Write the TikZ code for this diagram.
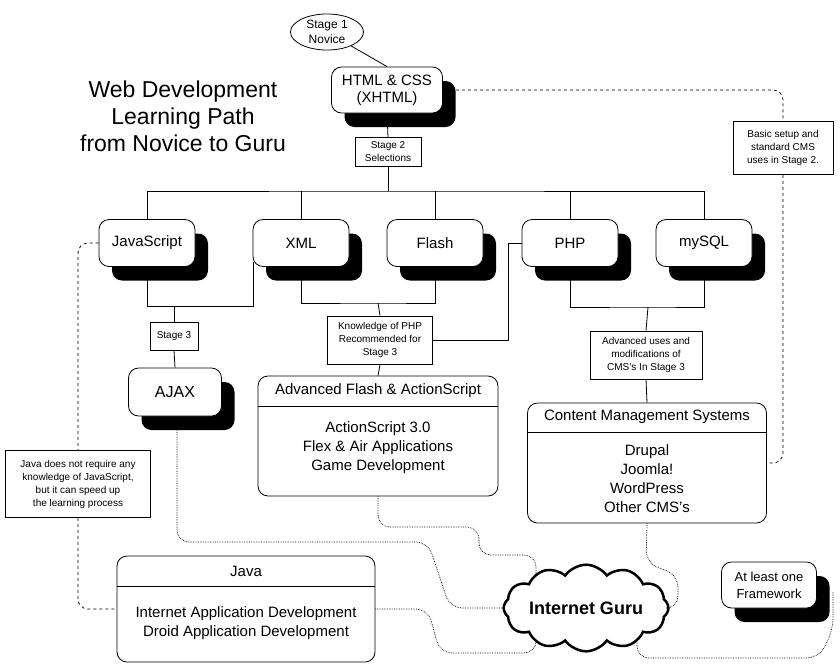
\documentclass[tikz,border=0pt]{standalone}
\usepackage{fontspec}
\setmainfont{Liberation Sans}
\usetikzlibrary{shapes.geometric,shapes.symbols,shadows,calc}
\begin{document}
\begin{tikzpicture}[x=1pt,y=-1pt,line width=0.8pt,
  box/.style={draw,fill=white,rounded corners=10pt,align=center,font=\fontsize{15}{17}\selectfont,inner sep=0pt},
  shad/.style={box,drop shadow={shadow xshift=13pt,shadow yshift=-14pt,fill=black,opacity=1}},
  note/.style={draw,fill=white,align=center,font=\fontsize{10}{13}\selectfont,inner sep=0pt},
  big/.style={box,font=\fontsize{15}{19}\selectfont},
  dot/.style={densely dotted,line width=0.7pt,rounded corners=12pt},
  dsh/.style={dashed,line width=0.7pt,rounded corners=10pt}]
\useasboundingbox (0,0) rectangle (840,670);
\fill[white] (0,0) rectangle (840,670);
% title
\node[align=center,font=\fontsize{23}{27}\selectfont] (title) at (183,116) {Web Development\\Learning Path\\from Novice to Guru};
% stage 1
\node[draw,ellipse,fill=white,minimum width=73pt,minimum height=36pt,inner sep=0pt,align=center,font=\fontsize{12}{15}\selectfont] (s1) at (327,32) {Stage 1\\Novice};
\node[shad,minimum width=111pt,minimum height=46pt] (html) at (387,90) {HTML \& CSS\\(XHTML)};
\node[note,minimum width=66pt,minimum height=29pt] (s2) at (388,152) {Stage 2\\Selections};
% row
\foreach \n/\x/\t in {js/147/JavaScript,xml/301/XML,flash/435/Flash,php/570/PHP,mysql/704/mySQL}
  \node[shad,minimum width=96pt,minimum height=47pt] (\n) at (\x,243) {\t};
\node[note,minimum width=48pt,minimum height=28pt] (s3) at (174,336) {Stage 3};
\node[note,minimum width=105pt,minimum height=48pt] (know) at (380,340) {Knowledge of PHP\\Recommended for\\Stage 3};
\node[note,minimum width=112pt,minimum height=48pt] (adv) at (646,355) {Advanced uses and\\modifications of\\CMS's In Stage 3};
\node[shad,font=\fontsize{16}{18}\selectfont,minimum width=93pt,minimum height=48pt] (ajax) at (175,392) {AJAX};
% split boxes
\node[box,minimum width=240pt,minimum height=120pt] (advflash) at (378,436) {};
\draw (advflash.west |- 0,406) -- (advflash.east |- 0,406);
\node[font=\fontsize{15}{17}\selectfont] (afh) at (378,391) {Advanced Flash \& ActionScript};
\node[align=center,font=\fontsize{15}{19}\selectfont] (afb) at (378,448) {ActionScript 3.0\\Flex \& Air Applications\\Game Development};
\node[box,minimum width=239pt,minimum height=120pt] (cms) at (647,463) {};
\draw (cms.west |- 0,432) -- (cms.east |- 0,432);
\node[font=\fontsize{15}{17}\selectfont] (cmsh) at (647,417) {Content Management Systems};
\node[align=center,font=\fontsize{15}{19}\selectfont] (cmsb) at (647,479) {Drupal\\Joomla!\\WordPress\\Other CMS's};
\node[box,minimum width=258pt,minimum height=106pt] (java) at (246,609) {};
\draw (java.west |- 0,586) -- (java.east |- 0,586);
\node[font=\fontsize{15}{17}\selectfont] (javah) at (246,571) {Java};
\node[align=center,font=\fontsize{15}{19}\selectfont] (javab) at (246,623) {Internet Application Development\\Droid Application Development};
% notes
\node[note,minimum width=100pt,minimum height=53pt] (basic) at (783,148) {Basic setup and\\standard CMS\\uses in Stage 2.};
\node[note,minimum width=145pt,minimum height=67pt] (jnote) at (78,484) {Java does not require any\\knowledge of JavaScript,\\but it can speed up\\the learning process};
% cloud
\node[cloud,draw,line width=2.5pt,fill=white,cloud puffs=12,cloud puff arc=110,aspect=2.4,minimum width=158pt,minimum height=66pt,inner sep=0pt,font=\bfseries\fontsize{18}{20}\selectfont] (guru) at (586,608) {Internet Guru};
\node[shad,font=\fontsize{13}{17}\selectfont,minimum width=95pt,minimum height=46pt] (fw) at (769,585) {At least one\\Framework};
% coordinates
\coordinate (bus) at (388,191);
\coordinate (jx) at (253,306);
\coordinate (j3) at (174,306);
\coordinate (xf) at (378,303);
\coordinate (pm) at (648,307);
\coordinate (pk) at (508,243);
% solid connectors
\draw (s1) -- (html.north);
\draw (html.south) -- (s2.north);
\draw (s2.south) -- (bus);
\draw (js.north) |- (bus) -| (mysql.north);
\foreach \n in {xml,flash,php} \draw (\n.north) -- (\n.north |- bus);
\draw (js.south) |- (jx) -- (253,262);
\draw (j3) -- (s3.north);
\draw (s3.south) -- (ajax.north);
\draw (xml.south) |- (xf) -| (flash.south);
\draw (xf) -- (know.north);
\draw (know.south) -- (advflash.north);
\draw (know.east) -| (pk) -- (php.west);
\draw (php.south) |- (pm) -| (mysql.south);
\draw (pm) -- (adv.north);
\draw (adv.south) -- (cms.north);
% dashed
\draw[dsh] ($(html.east)+(13,0)$) -| (basic.north);
\draw[dsh] (basic.south) |- (cms.east);
\draw[dsh] (js.west) -| (jnote.north);
\draw[dsh] (jnote.south) |- (java.west);
% dotted
\coordinate (g1) at (536,577);
\coordinate (g2) at (536,640);
\coordinate (g3) at (637,640);
\coordinate (fwr) at (833,592);
\draw[dot] ($(ajax.south)+(2,14)$) -- (177,542) -- (428,542) -- (450,608) -- (guru.west);
\draw[dot] (advflash.south) -- (378,527) -- (479,527) -- (479,555) -- (536,555) -- (g1);
\draw[dot] (cms.south) -- (646,563) -- (678,575) -- (678,608) -- (guru.east);
\draw[dot] (java.east) -- (428,609) -- (440,653) -- (536,653) -- (g2);
\draw[dot] (g3) -- (637,658) -- (819,658) -- (833,630) -- (fwr);
\end{tikzpicture}
\end{document}
